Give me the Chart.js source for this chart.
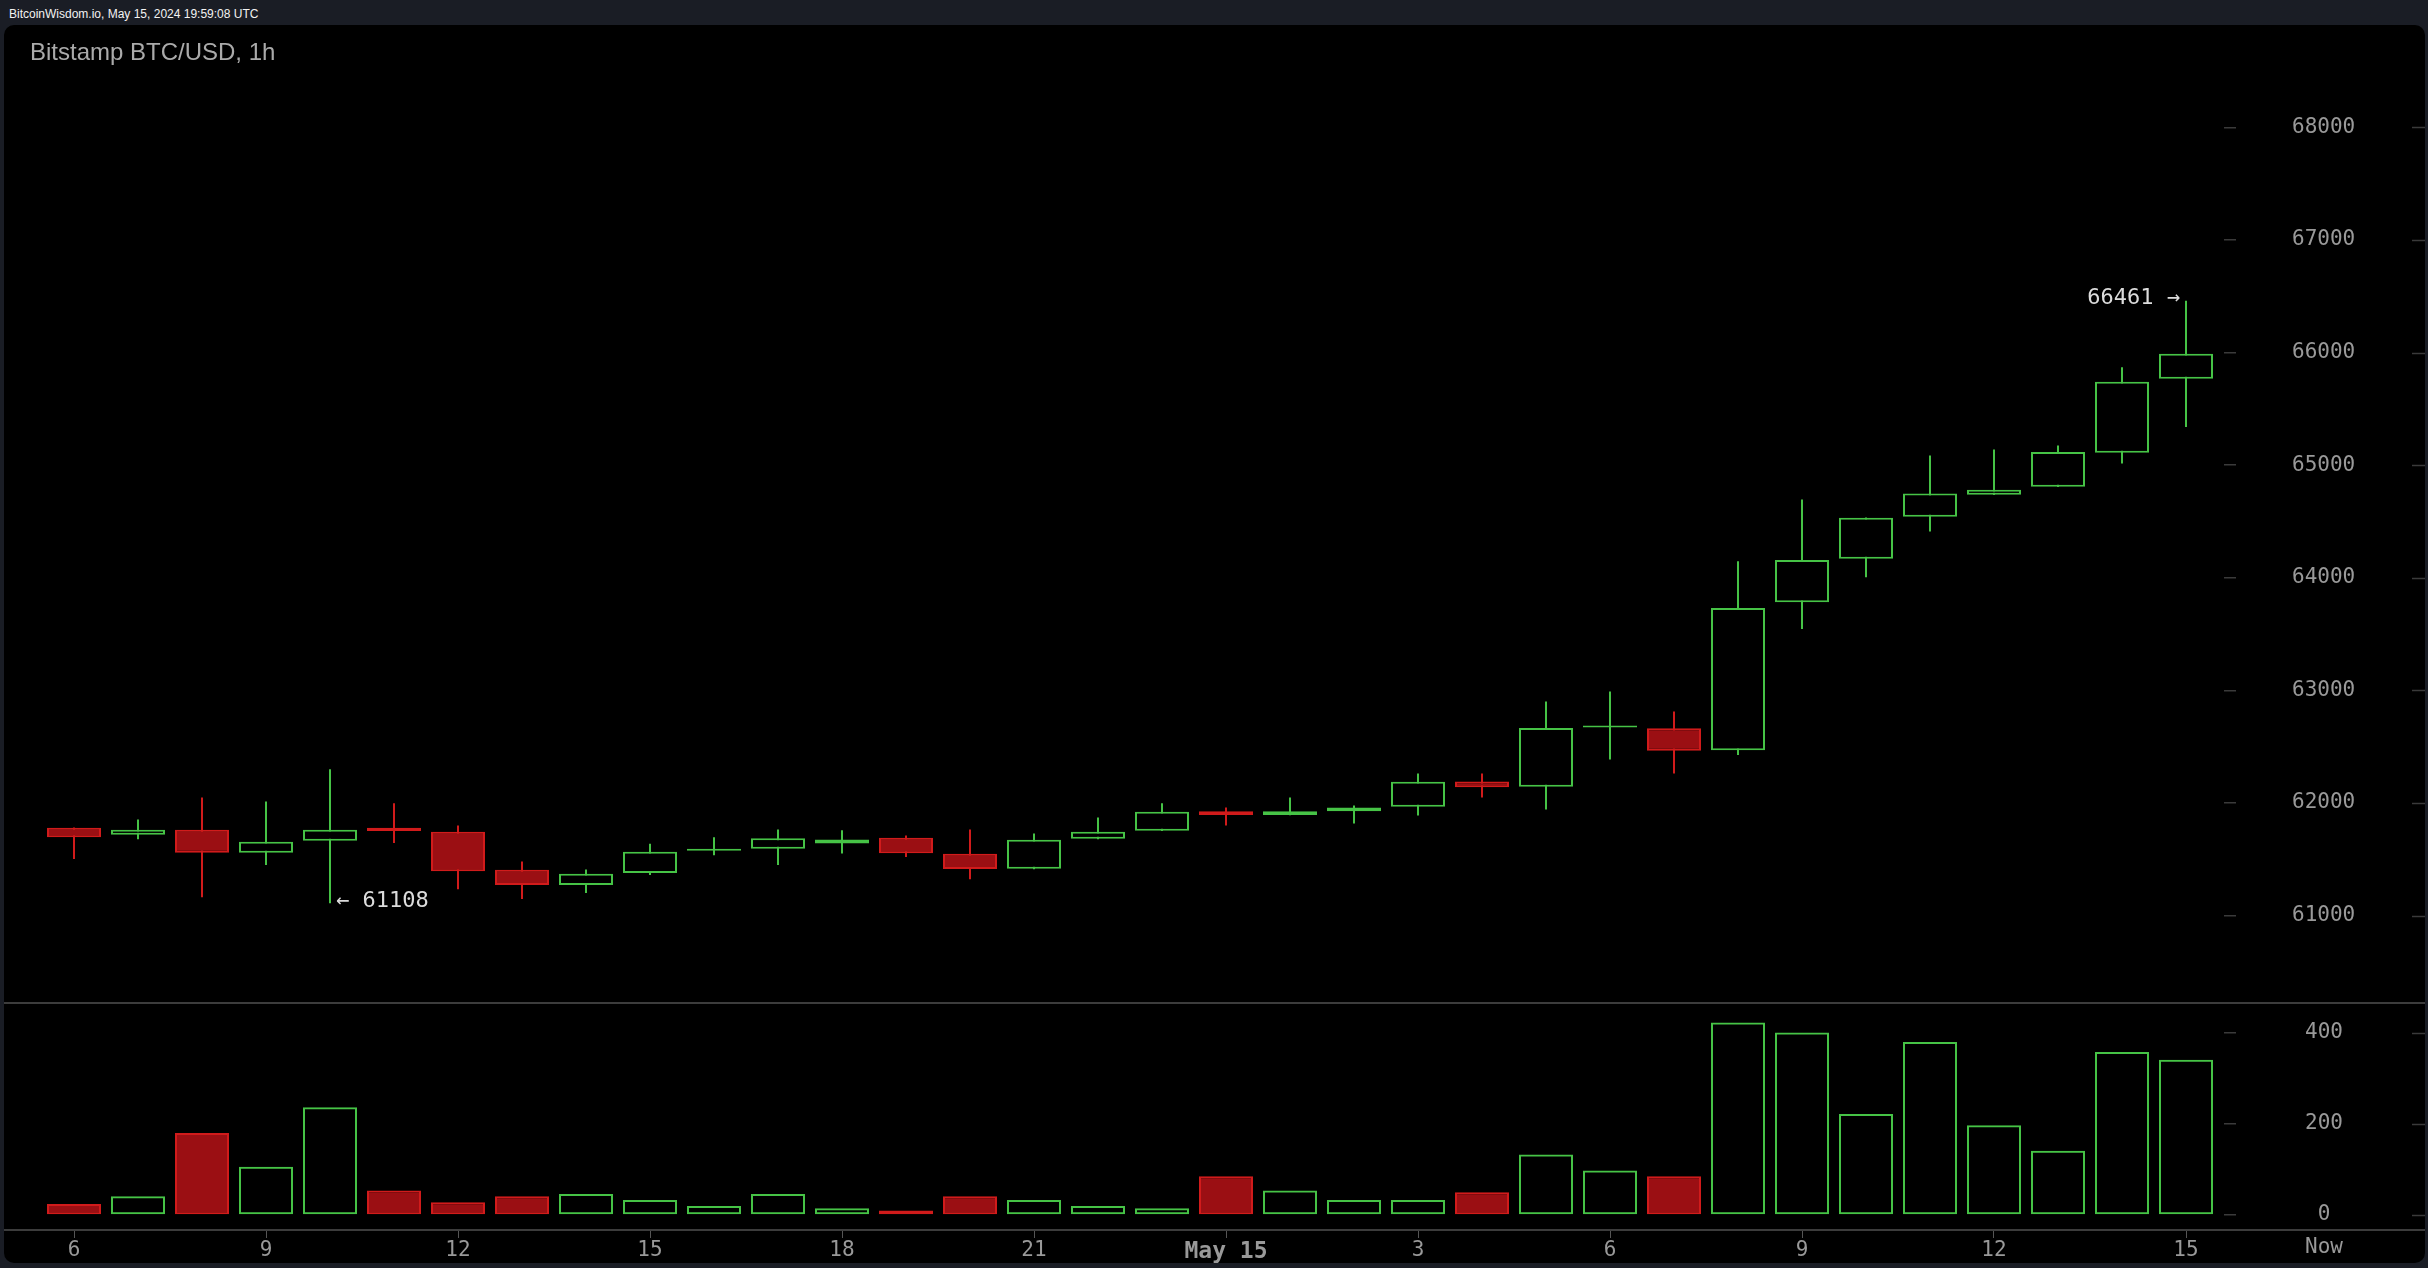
<!DOCTYPE html>
<html>
<head>
<meta charset="utf-8">
<script src="https://cdn.jsdelivr.net/npm/chart.js@4.4.1/dist/chart.umd.min.js"></script>
<style>
html,body{margin:0;padding:0;background:#1a1d25;width:2428px;height:1268px;overflow:hidden;}
#hdr{position:absolute;left:9px;top:8px;font:12px "Liberation Sans",Arial,sans-serif;line-height:12px;color:#f2f2f2;white-space:nowrap;}
#panel{position:absolute;left:4px;top:25px;width:2421px;height:1238px;background:#000;border-radius:10px;overflow:hidden;}
#title{position:absolute;left:26px;top:15px;font:24px "Liberation Sans",Arial,sans-serif;line-height:24px;color:#aaaaaa;z-index:2;white-space:nowrap;}
#wrap{position:absolute;left:0;top:0;width:2421px;height:1238px;}
</style>
</head>
<body>
<div id="hdr">BitcoinWisdom.io, May 15, 2024 19:59:08 UTC</div>
<div id="panel">
  <div id="title">Bitstamp BTC/USD, 1h</div>
  <div id="wrap"><canvas id="c"></canvas></div>
</div>
<script>
// ---- data (hourly candles, May 14 06:00 -> May 15 15:00 UTC) ----
const open   = [61780,61718,61762,61558,61664,61780,61744,61407,61270,61377,61576,61593,61640,61691,61549,61416,61682,61753,61925,61892,61927,61966,62191,62144,62670,62663,62468,63782,64168,64542,64737,64809,65111,65768];
const high   = [61782,61853,62049,62013,62298,61996,61800,61480,61409,61638,61694,61765,61758,61711,61765,61729,61871,61996,61960,62049,61978,62262,62262,62901,62990,62813,64146,64694,64535,65086,65139,65174,65869,66461];
const low    = [61501,61678,61163,61448,61108,61643,61234,61146,61199,61359,61536,61448,61551,61519,61323,61410,61678,61750,61800,61890,61818,61889,62049,61942,62386,62261,62426,63544,64005,64410,64735,64805,65015,65338];
const close  = [61696,61762,61558,61655,61762,61750,61394,61270,61371,61567,61590,61687,61676,61554,61412,61673,61744,61922,61892,61925,61960,62188,62140,62666,62686,62464,63732,64158,64532,64747,64782,65117,65741,65990];
const volume = [24,41,180,106,237,54,28,41,46,33,20,46,15,10,41,33,20,15,85,54,33,33,50,133,98,85,423,401,222,380,197,141,358,341];

const tickIdx    = [0,3,6,9,12,15,18,21,24,27,30,33];
const tickLabels = ['6','9','12','15','18','21','May 15','3','6','9','12','15'];
const priceTicks = [61000,62000,63000,64000,65000,66000,67000,68000];
const volTicks   = [0,200,400];
const nowLabel   = 'Now';

// ---- styling ----
const GREEN = '#46c346', RED = '#d11b1b', REDFILL = '#9b0f13';
const MONO = '"DejaVu Sans Mono", monospace';

const idx = open.map((_, i) => i);
const up = idx.map(i => close[i] >= open[i]);
const bodies = idx.map(i => ({x: i, y: [open[i], close[i]]}));
const wicks  = idx.map(i => ({x: i, y: [low[i], high[i]]}));
const vols   = idx.map(i => ({x: i, y: volume[i]}));

const noPad = s => { s.paddingTop = 0; s.paddingBottom = 0; s.paddingLeft = 0; s.paddingRight = 0; };

const overlay = {
  id: 'overlay',
  afterDraw(chart) {
    const {ctx, scales: {x, y, yv}} = chart;
    ctx.save();
    ctx.strokeStyle = '#3c3c3c';
    ctx.lineWidth = 2;
    [yv.top, x.top].forEach(py => {
      ctx.beginPath(); ctx.moveTo(0, py); ctx.lineTo(chart.width, py); ctx.stroke();
    });
    ctx.lineWidth = 1.5;
    ctx.strokeStyle = '#3a3a3a';
    [[y, priceTicks], [yv, volTicks]].forEach(([s, t]) => t.forEach(v => {
      const py = Math.round(s.getPixelForValue(v)) + 0.5;
      ctx.beginPath(); ctx.moveTo(chart.width - 13, py); ctx.lineTo(chart.width, py); ctx.stroke();
    }));
    let iMin = 0, iMax = 0;
    low.forEach((v, i) => { if (v < low[iMin]) iMin = i; });
    high.forEach((v, i) => { if (v > high[iMax]) iMax = i; });
    ctx.font = '22px ' + MONO;
    ctx.fillStyle = '#dcdcdc';
    ctx.textBaseline = 'middle';
    ctx.textAlign = 'left';
    ctx.fillText('\u2190 ' + low[iMin], x.getPixelForValue(iMin) + 6, y.getPixelForValue(low[iMin]) - 2);
    ctx.textAlign = 'right';
    ctx.fillText(high[iMax] + ' \u2192', x.getPixelForValue(iMax) - 6, y.getPixelForValue(high[iMax]) - 2);
    ctx.font = '21px ' + MONO;
    ctx.fillStyle = '#999999';
    ctx.textAlign = 'center';
    ctx.fillText(nowLabel, y.left + 100, x.top + 18);
    ctx.restore();
  }
};

new Chart(document.getElementById('c'), {
  type: 'bar',
  data: {
    datasets: [
      { data: bodies, yAxisID: 'y', order: 0, grouped: false, barThickness: 54, minBarLength: 2,
        backgroundColor: idx.map(i => up[i] ? '#000000' : REDFILL),
        borderColor: idx.map(i => up[i] ? GREEN : RED),
        borderWidth: 2, borderSkipped: false, inflateAmount: 0 },
      { data: wicks, yAxisID: 'y', order: 1, grouped: false, barThickness: 2,
        backgroundColor: idx.map(i => up[i] ? GREEN : RED),
        borderWidth: 0, borderSkipped: false, inflateAmount: 0 },
      { data: vols, yAxisID: 'yv', order: 2, grouped: false, barThickness: 54,
        backgroundColor: idx.map(i => up[i] ? 'rgba(0,0,0,0)' : REDFILL),
        borderColor: idx.map(i => up[i] ? GREEN : RED),
        borderWidth: 2, borderSkipped: false, inflateAmount: 0 }
    ]
  },
  options: {
    responsive: true,
    maintainAspectRatio: false,
    animation: false,
    events: [],
    layout: { padding: 0 },
    plugins: { legend: { display: false }, tooltip: { enabled: false } },
    scales: {
      x: {
        type: 'linear', position: 'bottom', offset: false,
        min: -70 / 64, max: (2220 - 70) / 64,
        afterBuildTicks: s => { s.ticks = tickIdx.map(v => ({value: v})); },
        afterFit: s => { s.height = 33; noPad(s); },
        grid: { offset: false, drawOnChartArea: false, drawTicks: true, tickLength: 8, color: '#555555', lineWidth: 1 },
        border: { display: false },
        ticks: {
          autoSkip: false, maxRotation: 0, minRotation: 0, padding: 0, color: '#999999',
          font: c => (c.tick && tickLabels[tickIdx.indexOf(c.tick.value)] === 'May 15')
            ? { family: MONO, size: 23, weight: 'bold' } : { family: MONO, size: 21 },
          callback: v => { const k = tickIdx.indexOf(v); return k >= 0 ? tickLabels[k] : ''; }
        }
      },
      y: {
        type: 'linear', position: 'right', stack: 'panes', stackWeight: 978, weight: 0,
        min: 60223, max: 68909,
        afterBuildTicks: s => { s.ticks = priceTicks.map(v => ({value: v})); },
        afterFit: s => { s.width = 201; noPad(s); },
        grid: { drawOnChartArea: false, drawTicks: true, tickLength: 12, color: '#3a3a3a', lineWidth: 1.5 },
        border: { display: false },
        ticks: { crossAlign: 'center', padding: 56, color: '#999999', font: { family: MONO, size: 21 },
                 callback: v => String(v) }
      },
      yv: {
        type: 'linear', position: 'right', stack: 'panes', stackWeight: 227, weight: 1,
        min: -33, max: 465.9,
        afterBuildTicks: s => { s.ticks = volTicks.map(v => ({value: v})); },
        afterFit: s => { s.width = 201; noPad(s); },
        grid: { drawOnChartArea: false, drawTicks: true, tickLength: 12, color: '#3a3a3a', lineWidth: 1.5 },
        border: { display: false },
        ticks: { crossAlign: 'center', padding: 69, color: '#999999', font: { family: MONO, size: 21 },
                 callback: v => String(v) }
      }
    }
  },
  plugins: [overlay]
});
</script>
</body>
</html>
